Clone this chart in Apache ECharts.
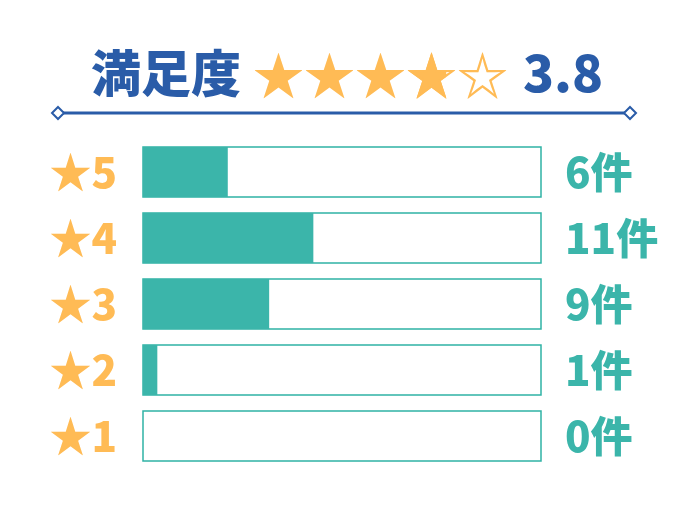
<!DOCTYPE html>
<html>
<head>
<meta charset="utf-8">
<script src="https://cdn.jsdelivr.net/npm/echarts@6/dist/echarts.min.js"></script>
<style>html,body{margin:0;padding:0;background:#fff}#c{width:690px;height:518px}</style>
</head>
<body>
<div id="c"></div>
<script>
// data
var categories = ['5', '4', '3', '2', '1'];
var counts = [6, 11, 9, 1, 0];
var barShare = [21.3, 42.8, 31.7, 3.6, 0]; // % of track filled, as drawn
var titleText = '満足度';
var ratingText = '3.8';
var rating = 3.8;

var BLUE = '#2a5ca8';
var ORANGE = '#ffbb55';
var TEAL = '#3bb5aa';
var TEAL_BORDER = '#2fb3a5';
var FONT = '"Noto Sans CJK JP"';

var STAR_X = 253, STAR_W = 51, STAR_Y = 50;
var STAR_FONT = 'bold 51px ' + FONT;
var full = Math.floor(rating);
var frac = rating - full;
var partX = STAR_X + STAR_W * full;

var graphics = [
  { type: 'text', left: 91, top: 48, style: { text: titleText, font: '900 50px ' + FONT, fill: BLUE } },
  { type: 'text', x: STAR_X, y: STAR_Y, style: { text: '★★★', font: STAR_FONT, fill: ORANGE } },
  { type: 'text', x: partX, y: STAR_Y, style: { text: '★', font: STAR_FONT, fill: ORANGE } },
  { type: 'rect', shape: { x: partX + 1 + (STAR_W - 2) * frac, y: STAR_Y, width: STAR_W, height: 60 }, style: { fill: '#fff' } },
  { type: 'text', x: partX, y: STAR_Y, style: { text: '☆', font: STAR_FONT, fill: ORANGE } },
  { type: 'text', x: partX + STAR_W, y: STAR_Y, style: { text: '☆', font: STAR_FONT, fill: ORANGE } },
  { type: 'text', x: 523, y: 47, style: { text: ratingText, font: '900 51px ' + FONT, fill: BLUE } },
  { type: 'line', shape: { x1: 58, y1: 113, x2: 630, y2: 113 }, style: { stroke: BLUE, lineWidth: 3 } },
  { type: 'polygon', shape: { points: [[58, 107], [64, 113], [58, 119], [52, 113]] }, style: { fill: '#fff', stroke: BLUE, lineWidth: 2 } },
  { type: 'polygon', shape: { points: [[630, 107], [636, 113], [630, 119], [624, 113]] }, style: { fill: '#fff', stroke: BLUE, lineWidth: 2 } }
];

var chart = echarts.init(document.getElementById('c'));
chart.setOption({
  animation: false,
  backgroundColor: '#fff',
  grid: { left: 143, right: 149, top: 139, bottom: 49 },
  xAxis: { type: 'value', min: 0, max: 100, show: false },
  yAxis: [{
    type: 'category', data: categories, inverse: true,
    axisLine: { show: false }, axisTick: { show: false },
    axisLabel: {
      margin: 26, color: ORANGE, fontSize: 42, fontWeight: 900, fontFamily: FONT,
      formatter: function (v) { return '★' + v; }
    }
  }, {
    type: 'category', data: counts.map(function (c) { return c + '件'; }), inverse: true,
    position: 'right',
    axisLine: { show: false }, axisTick: { show: false },
    axisLabel: { margin: 24, color: TEAL, fontSize: 42, fontWeight: 900, fontFamily: FONT, align: 'left' }
  }],
  series: [{
    type: 'bar', data: barShare, barWidth: 50,
    itemStyle: { color: TEAL },
    showBackground: true,
    backgroundStyle: { color: '#fff', borderColor: TEAL_BORDER, borderWidth: 1.5 }
  }],
  graphic: graphics
});
</script>
</body>
</html>
